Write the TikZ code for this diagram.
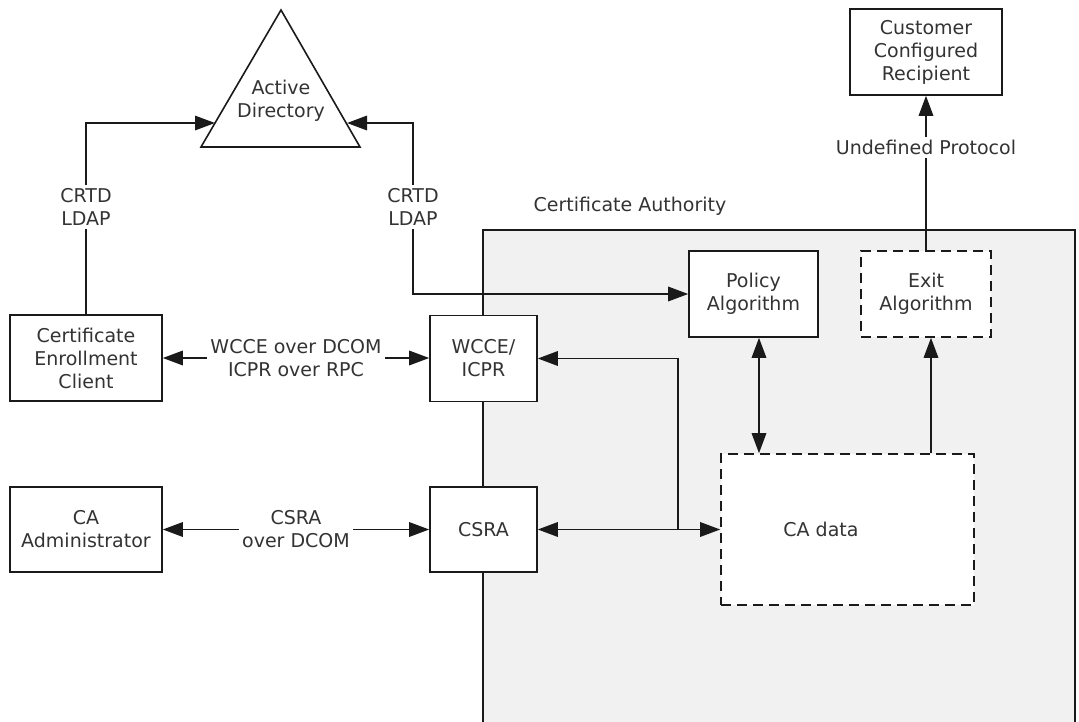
\documentclass[tikz,border=0pt]{standalone}
\usepackage{fontspec}
\setmainfont{DejaVu Sans}
\usetikzlibrary{arrows.meta}
\definecolor{cagray}{HTML}{F1F1F1}
\definecolor{txt}{HTML}{333333}
\definecolor{ln}{HTML}{1A1A1A}
\begin{document}
\begin{tikzpicture}[x=1pt,y=-1pt,
  every node/.style={font=\fontsize{19}{23}\selectfont, text=txt, align=center},
  box/.style={draw=ln, line width=1.6pt, fill=white, inner sep=0pt, rectangle},
  dbox/.style={box, dash pattern=on 10pt off 6pt},
  conn/.style={draw=ln, line width=1.6pt},
  tip/.style={-{Triangle[length=20pt,width=14.5pt]}},
  both/.style={{Triangle[length=20pt,width=14.5pt]}-{Triangle[length=20pt,width=14.5pt]}},
  lbl/.style={fill=white, inner sep=3pt}
]
\useasboundingbox (0,0) rectangle (1079,721);

% Certificate Authority region
\node[draw=ln, line width=1.6pt, fill=cagray, minimum width=592pt, minimum height=500pt, inner sep=0pt] (ca) at (779,480) {};
\node (calbl) at (630,206) {Certificate Authority};

% Active Directory triangle
\draw[conn, fill=white] (281,10) -- (360,147) -- (201,147) -- cycle;
\node (ad) at (281,101) {Active\\Directory};
\coordinate (adL) at (215,123);
\coordinate (adR) at (347,123);

% boxes
\node[box, minimum width=152pt, minimum height=86pt] (cec) at (86,358) {Certificate\\Enrollment\\Client};
\node[box, minimum width=107pt, minimum height=86pt] (wcce) at (483.5,358.5) {WCCE/\\ICPR};
\node[box, minimum width=152pt, minimum height=85pt] (admin) at (86,529.5) {CA\\Administrator};
\node[box, minimum width=107pt, minimum height=85pt] (csra) at (483.5,529.5) {CSRA};
\node[box, minimum width=129pt, minimum height=86pt] (policy) at (753.5,294) {Policy\\Algorithm};
\node[dbox, minimum width=130pt, minimum height=86pt] (exit) at (926,294) {Exit\\Algorithm};
\node[dbox, minimum width=253pt, minimum height=151pt] (cadata) at (847.5,529.5) {};
\node (cadatalbl) at (821,529) {CA data};
\node[box, minimum width=152pt, minimum height=86pt] (cust) at (926,52) {Customer\\Configured\\Recipient};

% connectors
\draw[conn, tip] (cec.north) |- (adL);
\draw[conn, both] (adR) -- ++(66,0) |- (policy.west);
\node[lbl] (crtd1) at (86,207) {CRTD\\LDAP};
\node[lbl] (crtd2) at (413,207) {CRTD\\LDAP};

\draw[conn, both] (cec.east) -- (cec.east -| wcce.west)
  node[lbl, midway] (l1) {WCCE over DCOM\\ICPR over RPC};
\draw[conn, both] (admin.east) -- (admin.east -| csra.west)
  node[lbl, midway] (l2) {CSRA\\over DCOM};

\draw[conn, both] (csra.east) -- (cadata.west);
\coordinate (j) at (678,529.5);
\draw[conn, tip] (j) |- (wcce.east);

\draw[conn, both] ([xshift=5.5pt]policy.south) -- ([xshift=5.5pt]policy.south |- cadata.north);
\draw[conn, tip] ([xshift=5pt]exit.south |- cadata.north) -- ([xshift=5pt]exit.south);
\draw[conn, tip] (exit.north) -- (cust.south)
  node[lbl, pos=0.667] (l3) {Undefined Protocol};
\end{tikzpicture}
\end{document}
